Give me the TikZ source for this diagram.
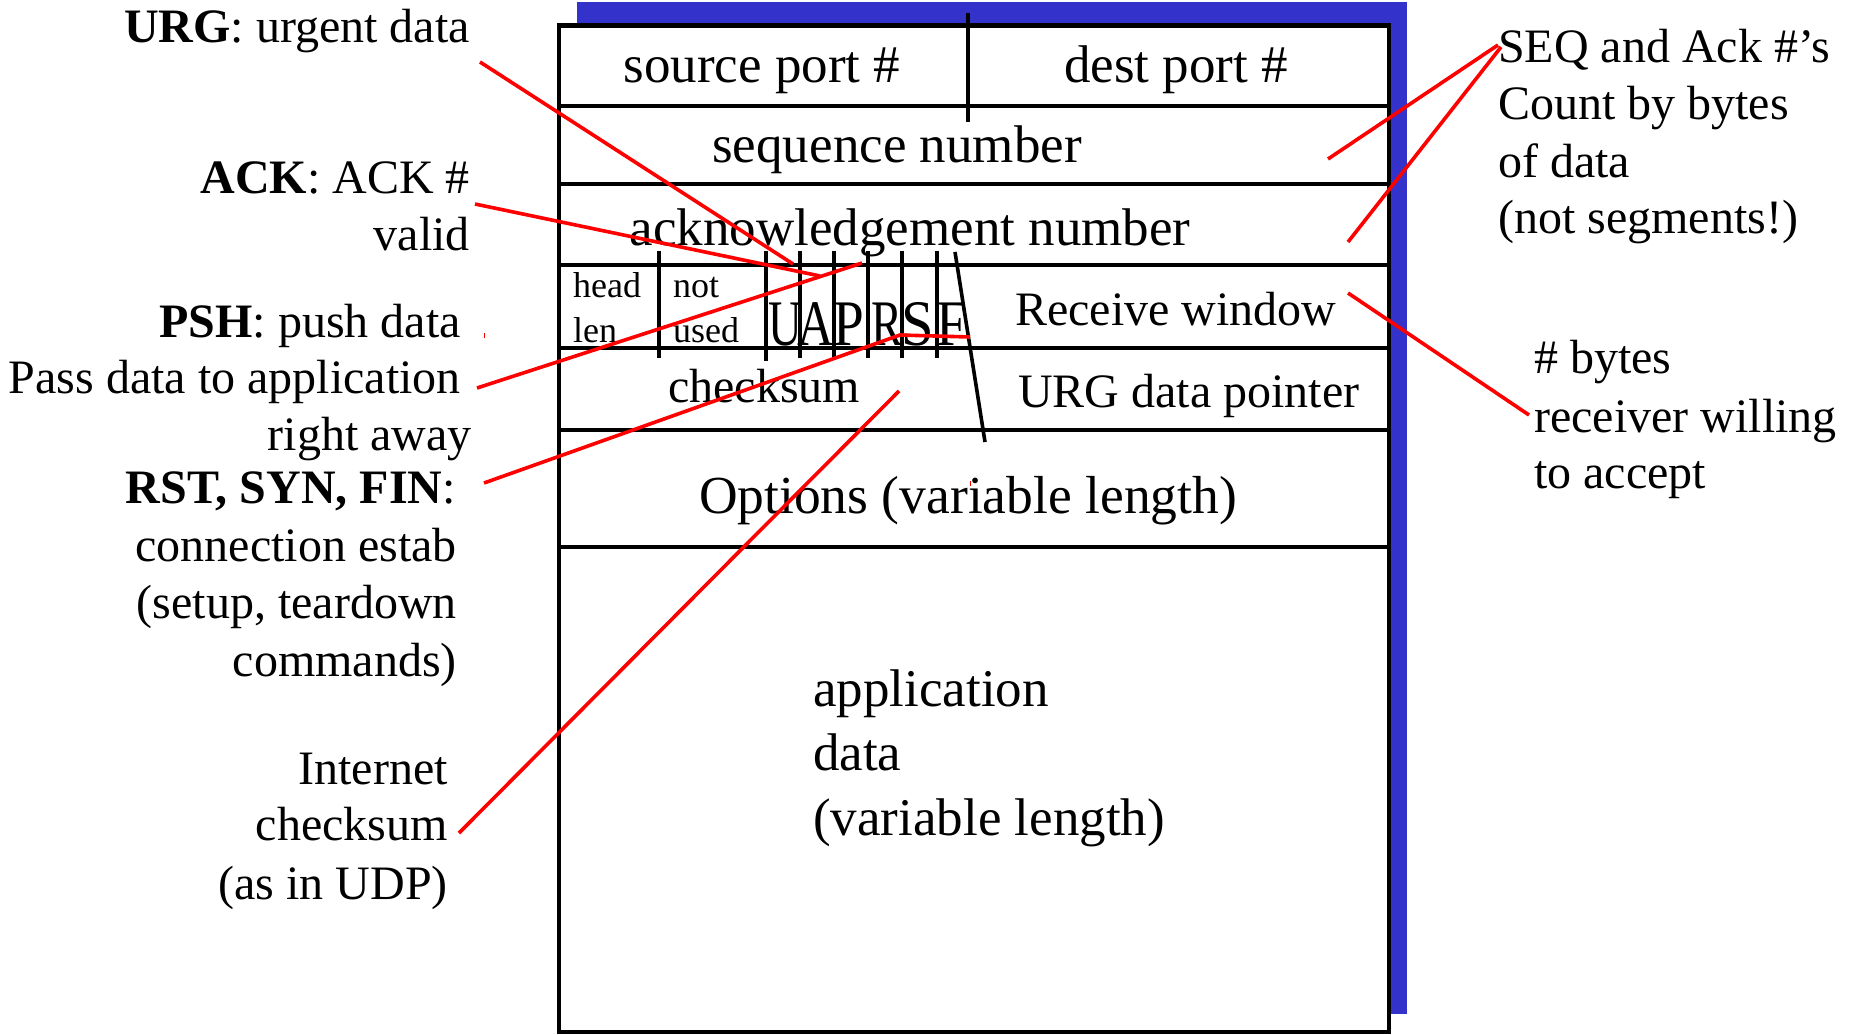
\documentclass[tikz,border=0pt]{standalone}
\usepackage{fontspec}
\setmainfont{Liberation Serif}
\definecolor{segblue}{RGB}{51,51,204}
\begin{document}
\begin{tikzpicture}[x=1pt,y=-1pt,
  hdr/.style={font=\fontsize{53}{64}\selectfont, inner sep=0pt, anchor=base},
  fld/.style={font=\fontsize{48}{57}\selectfont, inner sep=0pt, anchor=base west},
  tiny/.style={font=\fontsize{36}{45}\selectfont, inner sep=0pt, anchor=base west},
  flagletter/.style={font=\fontsize{65}{70}\selectfont, inner sep=0pt, anchor=base},
  lbl/.style={font=\fontsize{48}{57}\selectfont, inner sep=0pt, anchor=base east},
  rlbl/.style={font=\fontsize{48}{57}\selectfont, inner sep=0pt, anchor=base west},
  rowline/.style={line width=4pt},
  flagline/.style={line width=3.6pt},
  pointer/.style={red, line width=3.6pt},
]
\useasboundingbox (0,0) rectangle (1854,1034);

% shadow and segment frame
\fill[segblue] (577,2) rectangle (1407,1014);
\filldraw[fill=white, line width=4.5pt] (559,25.5) rectangle (1389,1032);

% field separators
\foreach \yy in {105.5,184,265,347.5,429.5,547}
  \draw[rowline] (559,\yy) -- (1389,\yy);
\draw[flagline] (968,13) -- (968,122);
\draw[flagline] (659,251) -- (659,358);
\draw[flagline] (766,251) -- (766,361);
\foreach \xx in {800,834,868,902,937}
  \draw[flagline] (\xx,251) -- (\xx,358);
\draw[flagline] (955,252) -- (985,442);

% field names
\node[hdr] (srcport) at (762,82) {source port \#};
\node[hdr] (dstport) at (1176,82) {dest port \#};
\node[hdr] (seqnum) at (897,162) {sequence number};
\node[hdr] (acknum) at (910,245) {acknowledgement number};
\node[tiny] (head) at (573,297) {head};
\node[tiny] (len) at (573,342) {len};
\node[tiny] (notw) at (673,297) {not};
\node[tiny] (used) at (673,342) {used};
\node[flagletter] (fu) at (785,345) {\scalebox{0.72}[1]{U}};
\node[flagletter] (fa) at (816,345) {\scalebox{0.78}[1]{A}};
\node[flagletter] (fp) at (849,345) {\scalebox{0.85}[1]{P}};
\node[flagletter] (fr) at (887,345) {\scalebox{0.72}[1]{R}};
\node[flagletter] (fs) at (918,345) {\scalebox{0.9}[1]{S}};
\node[flagletter] (ff) at (952,345) {\scalebox{0.85}[1]{F}};
\node[fld] (rwin) at (1015,325) {Receive window};
\node[fld] (csum) at (668,402) {checksum};
\node[fld] (urgptr) at (1018,407) {URG data pointer};
\node[font=\fontsize{53.5}{64}\selectfont, inner sep=0pt, anchor=base] (opts) at (968,513) {Options (variable length)};
\node[hdr, anchor=base west] (app1) at (813,706) {application};
\node[hdr, anchor=base west] (app2) at (813,770) {data};
\node[hdr, anchor=base west] (app3) at (813,835) {(variable length)};

% annotations on the left
\node[lbl] (urg) at (470,42) {\textbf{URG}: urgent data};
\node[lbl] (ack1) at (470,193) {\textbf{ACK}: ACK \#};
\node[lbl] (ack2) at (470,250) {valid};
\node[lbl] (psh1) at (461,337) {\textbf{PSH}: push data};
\node[lbl] (psh2) at (461,393) {Pass data to application};
\node[lbl] (psh3) at (472,450) {right away};
\node[lbl] (rst1) at (456,503) {\textbf{RST, SYN, FIN}:};
\node[lbl] (rst2) at (457,561) {connection estab};
\node[lbl] (rst3) at (457,618) {(setup, teardown};
\node[lbl] (rst4) at (457,676) {commands)};
\node[lbl] (inet1) at (448,784) {Internet};
\node[lbl] (inet2) at (448,840) {checksum};
\node[lbl] (inet3) at (448,899) {(as in UDP)};

% annotations on the right
\node[rlbl] (seq1) at (1498,62) {SEQ and Ack \#’s};
\node[rlbl] (seq2) at (1498,119) {Count by bytes};
\node[rlbl] (seq3) at (1498,177) {of data};
\node[rlbl] (seq4) at (1498,233) {(not segments!)};
\node[rlbl] (byt1) at (1534,373) {\# bytes};
\node[rlbl] (byt2) at (1534,432) {receiver willing};
\node[rlbl] (byt3) at (1534,488) {to accept};

% pointer end points
\coordinate (urgA) at (480,62);   \coordinate (urgB) at (793,264);
\coordinate (ackA) at (475,204);  \coordinate (ackB) at (820,276);
\coordinate (pshA) at (477,388);  \coordinate (pshB) at (862,263);
\coordinate (rstA) at (484,483);  \coordinate (rstB) at (900,335);
\coordinate (rstC) at (970,337);
\coordinate (inetA) at (459,833); \coordinate (inetB) at (899,391);
\coordinate (seqA) at (1498,45);  \coordinate (seqB) at (1328,159);
\coordinate (seqC) at (1501,47);  \coordinate (seqD) at (1348,242);
\coordinate (winA) at (1348,293); \coordinate (winB) at (1529,415);
\coordinate (tickA) at (484,333); \coordinate (tickB) at (484,338);
\coordinate (tickC) at (970,481); \coordinate (tickD) at (970,486);

% red pointers
\draw[pointer] (urgA) -- (urgB);
\draw[pointer] (ackA) -- (ackB);
\draw[pointer] (pshA) -- (pshB);
\draw[pointer] (rstA) -- (rstB) -- (rstC);
\draw[pointer] (inetA) -- (inetB);
\draw[pointer] (seqA) -- (seqB);
\draw[pointer] (seqC) -- (seqD);
\draw[pointer] (winA) -- (winB);
\draw[red, line width=1pt] (tickA) -- (tickB);
\draw[red, line width=1pt] (tickC) -- (tickD);
\end{tikzpicture}
\end{document}
